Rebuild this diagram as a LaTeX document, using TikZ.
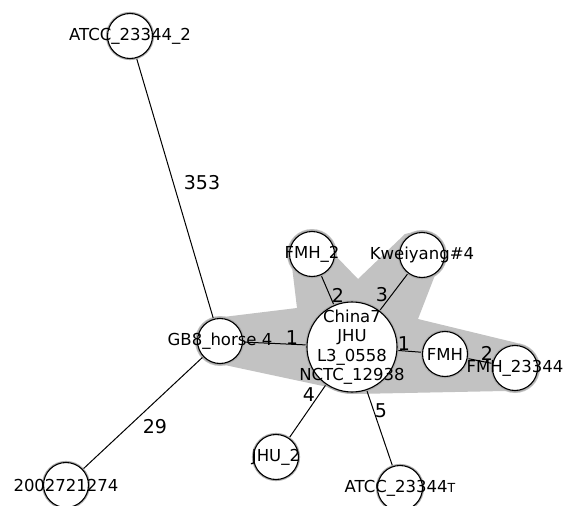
\documentclass[tikz,border=0pt]{standalone}
\usepackage{fontspec}
\setmainfont{DejaVu Sans}
\pgfdeclarelayer{hull}
\pgfdeclarelayer{edges}
\pgfsetlayers{hull,edges,main}
\definecolor{hullgray}{RGB}{194,194,194}
\definecolor{halo}{RGB}{170,170,170}
\tikzset{
  bubble/.style={circle, draw=black, line width=1.1pt, fill=white, minimum size=45pt, inner sep=0pt,
    preaction={draw=halo, line width=3.2pt}},
  bigbubble/.style={bubble, minimum size=90pt},
  ntext/.style={font=\fontsize{16.5}{19.5}\selectfont, inner sep=0pt, align=center},
  elab/.style={font=\fontsize{19}{19}\selectfont, inner sep=0pt},
  edge/.style={draw=black, line width=1pt}
}
\begin{document}
\begin{tikzpicture}[x=1pt,y=-1pt]
\useasboundingbox (0,0) rectangle (566,506);
% nodes
\node[bubble, label={[ntext]center:ATCC\_23344\_2}] (atcc2) at (130,36) {};
\node[bubble, label={[ntext]center:GB8\_horse 4}] (gb8) at (220,341) {};
\node[bigbubble, label={[ntext]center:China7\\JHU\\L3\_0558\\NCTC\_12938}] (ctr) at (352,347) {};
\node[bubble, label={[ntext]center:FMH\_2}] (fmh2) at (312,254) {};
\node[bubble, label={[ntext]center:Kweiyang\#4}] (kwei) at (422,255) {};
\node[bubble, label={[ntext]center:FMH}] (fmh) at (445,354) {};
\node[bubble, label={[ntext]center:FMH\_23344}] (fmh233) at (515,368) {};
\node[bubble, label={[ntext]center:JHU\_2}] (jhu2) at (276,457) {};
\node[bubble, label={[ntext]center:ATCC\_23344{\fontsize{12.5}{12.5}\selectfont T}}] (atcct) at (400,488) {};
\node[bubble, label={[ntext]center:2002721274}] (n200) at (66,485) {};
% hull
\begin{pgfonlayer}{hull}
\fill[hullgray] (290,250) -- (297,308) -- (215,318) -- (205,345) -- (220,364) -- (323,386) -- (355,394)
  -- (505,391) -- (535,370) -- (517,343) -- (418,319) -- (444,252) -- (422,230) -- (405,234)
  -- (358,279) -- (330,250) -- (312,231) -- cycle;
\fill[hullgray] (gb8) circle[radius=25pt];
\fill[hullgray] (fmh2) circle[radius=25pt];
\fill[hullgray] (kwei) circle[radius=25pt];
\fill[hullgray] (fmh233) circle[radius=25pt];
\fill[hullgray] (ctr) circle[radius=47pt];
\end{pgfonlayer}
% edges
\begin{pgfonlayer}{edges}
\draw[edge] (atcc2.center) -- (gb8.center);
\draw[edge] (gb8.center) -- (ctr.center);
\draw[edge] (gb8.center) -- (n200.center);
\draw[edge] (ctr.center) -- (fmh2.center);
\draw[edge] (ctr.center) -- (kwei.center);
\draw[edge] (ctr.center) -- (fmh.center);
\draw[edge] (fmh.center) -- (fmh233.center);
\draw[edge] (ctr.center) -- (jhu2.center);
\draw[edge] (ctr.center) -- (atcct.center);
\end{pgfonlayer}
% edge labels
\node[elab] (l1) at (202,183) {353};
\node[elab] (l2) at (292,338) {1};
\node[elab] (l3) at (338,295) {2};
\node[elab] (l4) at (382,295) {3};
\node[elab] (l5) at (404,344) {1};
\node[elab] (l6) at (487,353) {2};
\node[elab] (l7) at (309,395) {4};
\node[elab] (l8) at (381,411) {5};
\node[elab] (l9) at (155,427) {29};
\end{tikzpicture}
\end{document}
